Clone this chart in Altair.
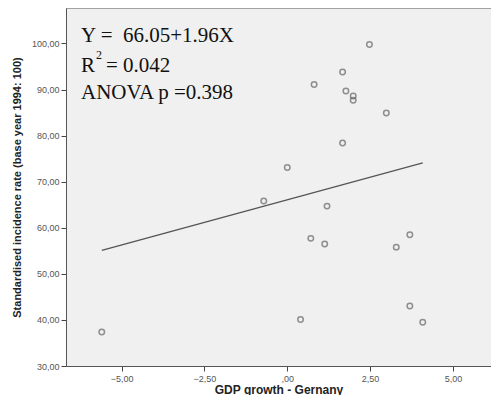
import altair as alt
import pandas as pd

gdp = [-5.60, -0.71, 0.00, 0.40, 0.71, 0.81, 1.13, 1.20, 1.67, 1.67, 1.77, 1.99, 1.99, 2.48, 2.99, 3.29, 3.70, 3.70, 4.09]
rate = [37.4, 65.8, 73.1, 40.1, 57.7, 91.1, 56.5, 64.7, 93.8, 78.4, 89.7, 88.6, 87.7, 99.8, 84.9, 55.8, 58.5, 43.0, 39.5]

intercept = 66.05
slope = 1.96
fit_x = [min(gdp), max(gdp)]
fit_y = [intercept + slope * v for v in fit_x]

x_ticks = [-5.0, -2.5, 0.0, 2.5, 5.0]
y_ticks = [30, 40, 50, 60, 70, 80, 90, 100]

pts = pd.DataFrame({"gdp": gdp, "rate": rate})
fit = pd.DataFrame({"gdp": fit_x, "rate": fit_y})

label_expr = "datum.value == 0 ? ',00' : replace(format(datum.value, '.2f'), '.', ',')"

W, H = 425, 358
xscale = alt.Scale(domain=[-6.68, 6.15], nice=False, zero=False)
yscale = alt.Scale(domain=[30, 107.7], nice=False, zero=False)

xaxis = alt.Axis(values=x_ticks, labelExpr=label_expr, title="GDP growth - Gernany",
                 grid=False, tickSize=5, labelPadding=3, titlePadding=1)
yaxis = alt.Axis(values=y_ticks, labelExpr=label_expr,
                 title="Standardised incidence rate (base year 1994: 100)",
                 grid=False, tickSize=5, labelPadding=2, titlePadding=9)

points = alt.Chart(pts).mark_point(shape="circle", filled=False, size=30, strokeWidth=1.5,
                                    color="#666666").encode(
    x=alt.X("gdp:Q", scale=xscale, axis=xaxis),
    y=alt.Y("rate:Q", scale=yscale, axis=yaxis),
)

line = alt.Chart(fit).mark_line(color="#555555", strokeWidth=1.3).encode(
    x=alt.X("gdp:Q", scale=xscale),
    y=alt.Y("rate:Q", scale=yscale),
)

top_border = alt.Chart(pd.DataFrame({"k": [0]})).mark_rule(color="#555555", strokeWidth=1).encode(
    x=alt.value(0), x2=alt.value(W), y=alt.value(0))

def txt(s, x, y, size=21):
    return alt.Chart(pd.DataFrame({"t": [s]})).mark_text(
        font="Liberation Serif", fontSize=size, align="left", baseline="alphabetic",
        color="#111111").encode(x=alt.value(x), y=alt.value(y), text="t:N")

ann = (txt("Y =\u00a0 66.05+1.96X", 15, 34) + txt("R", 15, 64) + txt("2", 30, 51, 12)
       + txt("= 0.042", 40, 64) + txt("ANOVA p =0.398", 15, 91))

chart = alt.layer(points, line, top_border, ann).properties(
    width=W, height=H,
    autosize=alt.AutoSizeParams(type="none"),
    padding={"left": 58, "top": 0, "right": 0, "bottom": 29},
).configure_view(
    fill="#f0f0f0", strokeWidth=0
).configure_axis(
    domainColor="#555555", tickColor="#444444", labelColor="#555555",
    labelFont="Liberation Sans", labelFontSize=9,
    titleFont="Liberation Sans", titleFontWeight="bold", titleColor="#222222",
    titleFontSize=11,
).configure_axisX(titleFontSize=12)

chart.save("out.html", embed_options={"renderer": "svg", "actions": False})
